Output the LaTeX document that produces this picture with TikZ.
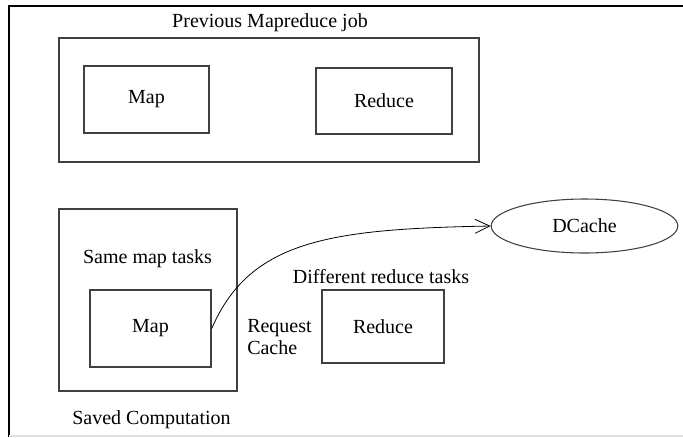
\documentclass[tikz,border=0pt]{standalone}
\usepackage{fontspec}
\setmainfont{Liberation Serif}
\usetikzlibrary{arrows.meta}
\usetikzlibrary{shapes.geometric}

\begin{document}
\begin{tikzpicture}[x=0.75pt, y=-0.75pt,
  box/.style={draw=black!75, line width=1.1pt, inner sep=0pt, font=\fontsize{15}{17}\selectfont},
  lbl/.style={inner sep=0pt, font=\fontsize{15}{17}\selectfont}]
\useasboundingbox (0,0) rectangle (683,437);
\draw [line width=2.2pt] (9,437) -- (9,6) -- (683,6); %page frame
\draw [black!12, line width=0.8pt] (9,436) -- (683,436);

\node[box, minimum width=315pt, minimum height=93pt] (prev) at (269, 100) {};
\node[lbl] (prevlbl) at (270, 23) {Previous Mapreduce job};
\node[box, minimum width=93.75pt, minimum height=50.25pt] (mapa) at (146.5, 99.5) {Map};
\node[box, minimum width=102pt, minimum height=49.5pt] (reda) at (384, 101) {Reduce};

\node[box, minimum width=133.5pt, minimum height=136.5pt] (saved) at (148, 300) {};
\node[lbl] (samelbl) at (147.5, 259) {Same map tasks};
\node[box, minimum width=90.75pt, minimum height=57.75pt] (mapb) at (150.5, 328.5) {Map};
\node[lbl] (savedlbl) at (151.5, 420) {Saved Computation};

\node[lbl] (difflbl) at (381, 277) {Different reduce tasks};
\node[box, minimum width=91.5pt, minimum height=54.75pt] (redb) at (383, 326.5) {Reduce};
\node[lbl, anchor=west, align=left] (reqlbl) at (247, 337) {Request\\Cache};

\node[box, ellipse, line width=0.8pt, minimum width=140pt, minimum height=40.5pt] (dcache) at (584.5, 226) {DCache};

\draw [-{Straight Barb[length=11pt, width=10.5pt]}, line width=0.6pt]
  (mapb.east) .. controls (250, 240) and (330, 229) .. (dcache.west);
\end{tikzpicture}
\end{document}
